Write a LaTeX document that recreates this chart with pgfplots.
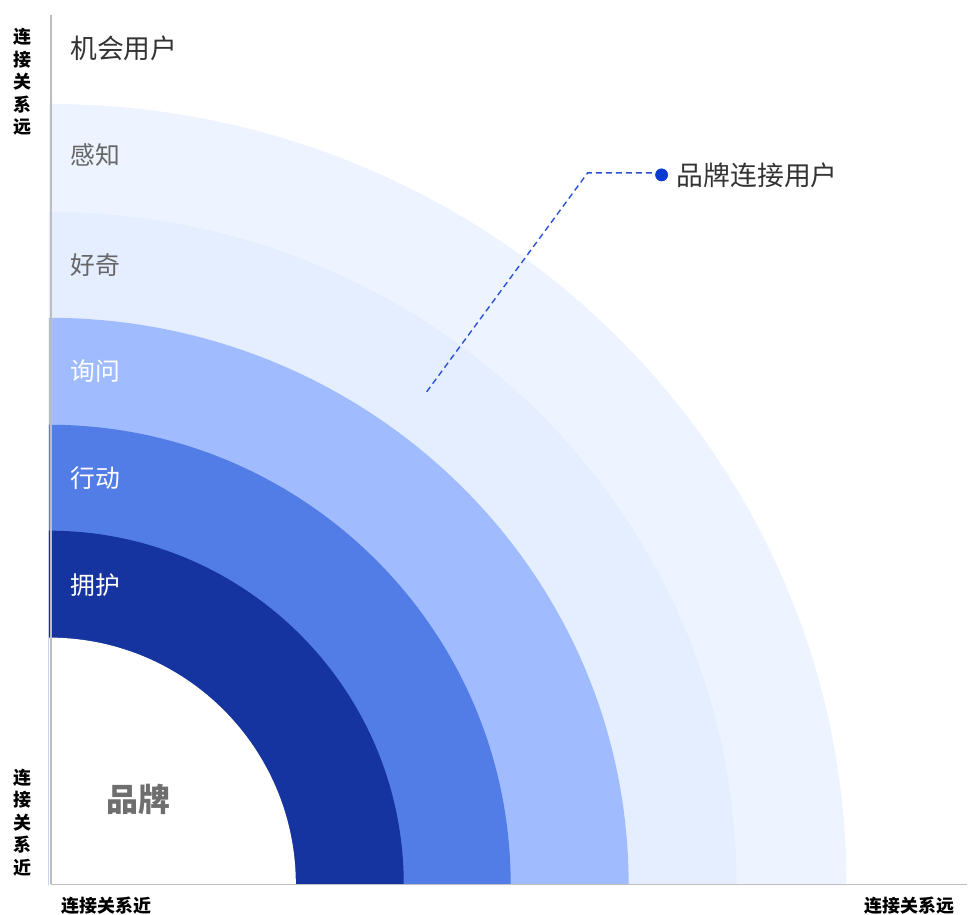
\documentclass[border=0pt]{standalone}
\usepackage{fontspec}
\setmainfont{Noto Sans CJK SC}
\usepackage{pgfplots}
\pgfplotsset{compat=1.18}
\definecolor{ring1}{HTML}{1634A0}
\definecolor{ring2}{HTML}{537DE6}
\definecolor{ring3}{HTML}{A0BCFF}
\definecolor{ring4}{HTML}{E5EEFF}
\definecolor{ring5}{HTML}{EEF4FF}
\definecolor{axisgray}{HTML}{BDBDBD}
\definecolor{callout}{HTML}{2A52D6}
\definecolor{dotblue}{HTML}{0B3BD0}
\definecolor{txtdark}{HTML}{333333}
\definecolor{txtgray}{HTML}{666666}
\begin{document}
\begin{tikzpicture}
% 1 axis unit = 1 px of the reference = 0.5pt
\begin{axis}[
  scale only axis,
  width=458.5pt, height=435pt,
  xmin=0, xmax=917, ymin=0, ymax=870,
  enlargelimits=false,
  axis x line=bottom, axis y line=left,
  axis line style={-, draw=axisgray, line width=0.6pt},
  xtick=\empty, ytick=\empty,
  axis on top,
  clip=false,
]
% outer bounds of the picture
\path (axis cs:-51,-30) rectangle (axis cs:917,885);

% quarter rings, centre at (-2,0); radii x / y
\begin{scope}
\clip (axis cs:-2,0) rectangle (axis cs:917,870);
\fill[ring5] (axis cs:-2,0) ellipse [x radius=798, y radius=781];
\fill[ring4] (axis cs:-2,0) ellipse [x radius=688, y radius=673];
\fill[ring3] (axis cs:-2,0) ellipse [x radius=580, y radius=567];
\fill[ring2] (axis cs:-2,0) ellipse [x radius=462, y radius=460];
\fill[ring1] (axis cs:-2,0) ellipse [x radius=355, y radius=354];
\fill[white] (axis cs:-2,0) ellipse [x radius=247, y radius=247];
\end{scope}

% callout
\addplot[callout, line width=0.7pt, dash pattern=on 3pt off 2pt, mark=none]
  coordinates {(376,493) (537,712) (604,712)};
\addplot[only marks, mark=*, mark size=3pt, dotblue, mark options={draw=dotblue, fill=dotblue}]
  coordinates {(611,710)};

\node[anchor=west, font=\fontsize{13.4pt}{15pt}\selectfont, text=txtdark, inner sep=0pt] at (axis cs:626,710) {品牌连接用户};

% ring labels
\node[anchor=west, font=\fontsize{13.4pt}{15pt}\selectfont, text=txtdark, inner sep=0pt] at (axis cs:19,837) {机会用户};
\node[anchor=west, font=\fontsize{12.4pt}{14pt}\selectfont, text=txtgray, inner sep=0pt] at (axis cs:19,730) {感知};
\node[anchor=west, font=\fontsize{12.4pt}{14pt}\selectfont, text=txtgray, inner sep=0pt] at (axis cs:19,620) {好奇};
\node[anchor=west, font=\fontsize{12.4pt}{14pt}\selectfont, text=white, inner sep=0pt] at (axis cs:19,514) {询问};
\node[anchor=west, font=\fontsize{12.4pt}{14pt}\selectfont, text=white, inner sep=0pt] at (axis cs:19,407) {行动};
\node[anchor=west, font=\fontsize{12.4pt}{14pt}\selectfont, text=white, inner sep=0pt] at (axis cs:19,300) {拥护};
\node[font=\fontsize{16pt}{18pt}\selectfont\bfseries, text=txtgray!95!white, inner sep=0pt] at (axis cs:88,85) {品牌};

% axis descriptions
\node[align=center, font=\fontsize{9pt}{11.2pt}\selectfont\bfseries, inner sep=0pt] at (axis cs:-28,803) {连\\接\\关\\系\\远};
\node[align=center, font=\fontsize{9pt}{11.2pt}\selectfont\bfseries, inner sep=0pt] at (axis cs:-28,62) {连\\接\\关\\系\\近};
\node[font=\fontsize{9pt}{11pt}\selectfont\bfseries, inner sep=0pt] at (axis cs:56,-21) {连接关系近};
\node[font=\fontsize{9pt}{11pt}\selectfont\bfseries, inner sep=0pt] at (axis cs:859,-21) {连接关系远};
\end{axis}
\end{tikzpicture}
\end{document}
